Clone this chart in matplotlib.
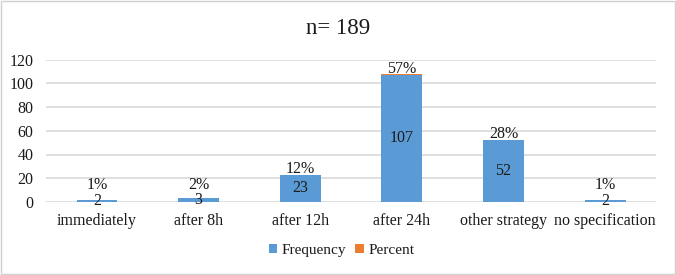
import matplotlib
matplotlib.use("Agg")
import matplotlib.pyplot as plt
from matplotlib.patches import Rectangle

categories = ["immediately", "after 8h", "after 12h", "after 24h", "other strategy", "no specification"]
frequency = [2, 3, 23, 107, 52, 2]
percent = [0.01, 0.02, 0.12, 0.57, 0.28, 0.01]
yticks = [0, 20, 40, 60, 80, 100, 120]

plt.rcParams['font.family'] = ['Liberation Serif', 'DejaVu Serif']

W, H = 676, 275
fig = plt.figure(figsize=(W/100, H/100), dpi=100)
y0, y120 = 202, 59.5
ax = fig.add_axes([46/W, 1-y0/H, (656-46)/W, (y0-y120)/H])
px_per_unit = (y0 - y120) / 120.0

blue = "#5b9bd5"
orange = "#ed7d31"
x = list(range(len(categories)))
w = 0.4
b1 = ax.bar(x, frequency, width=w, color=blue, label="Frequency", zorder=3)
b2 = ax.bar(x, percent, width=w, bottom=frequency, color=orange, label="Percent", zorder=3)

for i in x:
    ax.text(i, frequency[i] / 2, str(frequency[i]), ha='center', va='center', fontsize=11.5, color='#1a1a1a', zorder=4)
    top = frequency[i] + percent[i]
    # pixel offset of label centre above bar top, kept clear of the inner label
    off_px = max(5.5, 15.5 - (top - frequency[i] / 2) * px_per_unit)
    ax.annotate(f"{round(percent[i]*100)}%", xy=(i, top), xytext=(0, off_px * 0.72),
                textcoords='offset points', ha='center', va='center', fontsize=11.5, color='#1a1a1a', zorder=4)

ax.set_xlim(-0.5, len(categories) - 0.5)
ax.set_ylim(0, 120)
ax.set_yticks(yticks)
ax.set_yticklabels([str(t) for t in yticks], fontsize=11.5, color='#1a1a1a')
ax.set_xticks(x)
ax.set_xticklabels(categories, fontsize=11.5, color='#1a1a1a')
ax.tick_params(axis='y', length=0, pad=9)
ax.tick_params(axis='x', length=0, pad=8)
ax.grid(axis='y', color='#d9d9d9', linewidth=1.2, zorder=0)
for s in ax.spines.values():
    s.set_visible(False)

fig.text(0.5, 1-28/H, "n= 189", ha='center', va='center', fontsize=16.5, color='#1a1a1a')

leg = fig.legend(handles=[b1, b2], labels=["Frequency", "Percent"], loc='center', bbox_to_anchor=(0.505, 1-250.5/H),
                 ncol=2, frameon=False, fontsize=11,
                 handlelength=0.55, handleheight=0.55, handletextpad=0.3, columnspacing=0.6)
for t in leg.get_texts():
    t.set_color('#1a1a1a')

fig.patches.append(Rectangle((0.001, 0.002), 0.997, 0.995, transform=fig.transFigure, fill=False, edgecolor='#d0d0d0', linewidth=1))

fig.savefig("out.png", dpi=100, facecolor='white')
